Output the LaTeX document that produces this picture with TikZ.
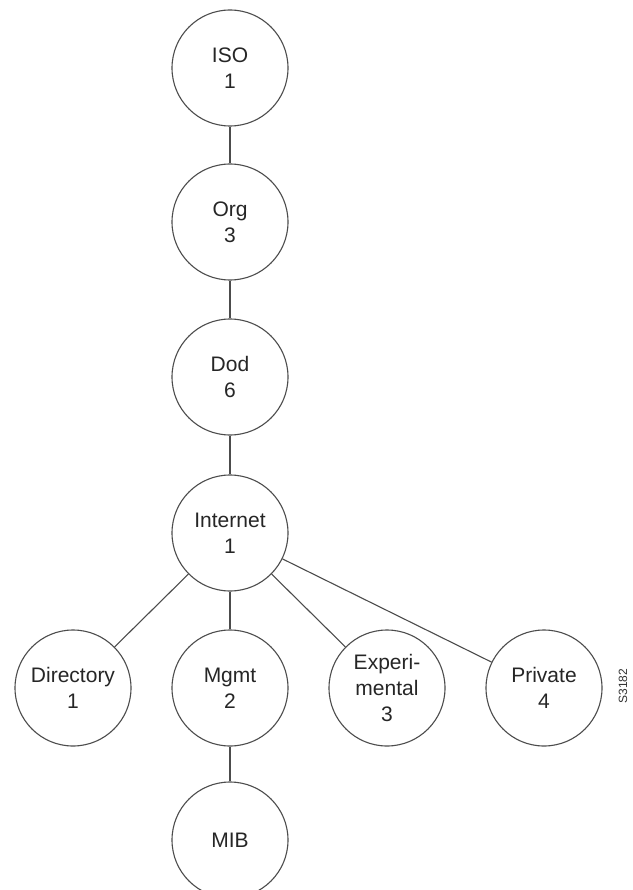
\documentclass[tikz,border=0pt]{standalone}
\usepackage{fontspec}
\setmainfont{Liberation Sans}
\begin{document}
\begin{tikzpicture}[x=1pt,y=-1pt,
  oid/.style={circle,draw=black!70,line width=1.1pt,minimum size=116pt,inner sep=0pt,align=center,
    font=\fontsize{21}{26}\selectfont,text=black!85},
  link/.style={draw=black!70,line width=1.1pt},
  figid/.style={rotate=90,font=\fontsize{12}{14}\selectfont,text=black!80,inner sep=0pt}]
\useasboundingbox (0,0) rectangle (632,890);
\fill[white] (0,0) rectangle (632,890);
\node[oid] (iso) at (230,68) {ISO\\1};
\node[oid] (org) at (230,222) {Org\\3};
\node[oid] (dod) at (230,377) {Dod\\6};
\node[oid] (inet) at (230,533) {Internet\\1};
\node[oid] (dir) at (73,688) {Directory\\1};
\node[oid] (mgmt) at (230,688) {Mgmt\\2};
\node[oid] (exp) at (387,688) {Experi-\\mental\\3};
\node[oid] (priv) at (544,688) {Private\\4};
\node[oid] (mib) at (230,840) {MIB};
\node[figid] (fig) at (623,686) {S3182};
\draw[link] (iso) -- (org);
\draw[link] (org) -- (dod);
\draw[link] (dod) -- (inet);
\draw[link] (inet) -- (dir);
\draw[link] (inet) -- (mgmt);
\draw[link] (inet) -- (exp);
\draw[link] (inet) -- (priv);
\draw[link] (mgmt) -- (mib);
\end{tikzpicture}
\end{document}
